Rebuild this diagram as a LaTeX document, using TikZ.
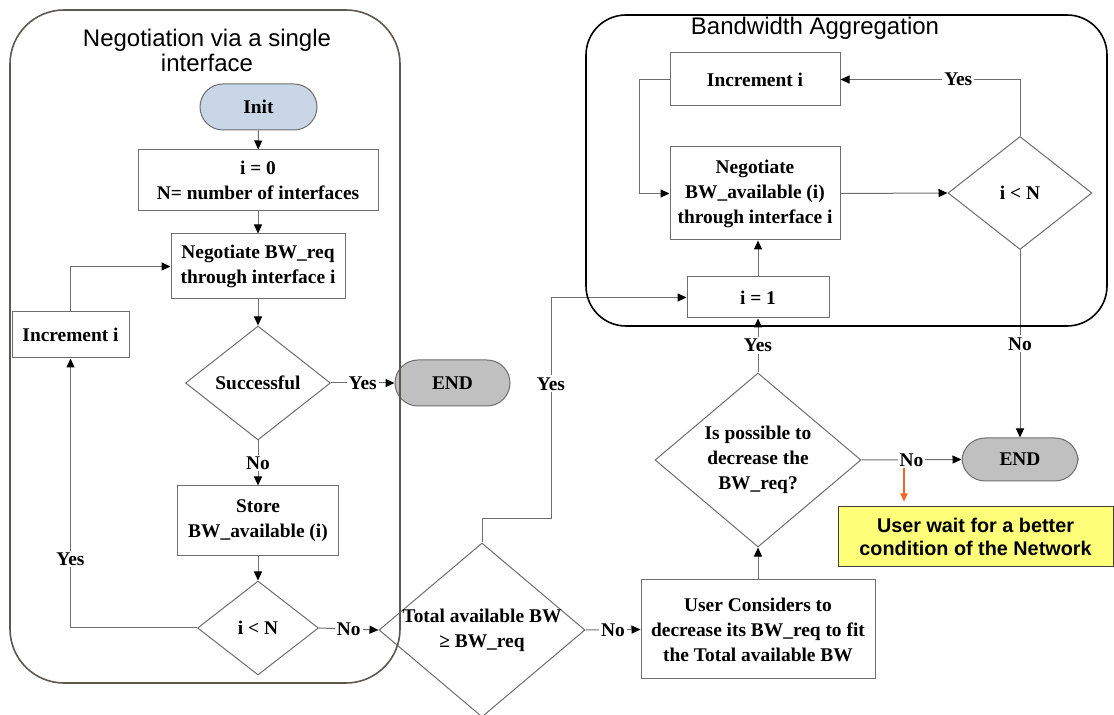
\documentclass[tikz,border=0pt]{standalone}
\usepackage{fontspec}
\setmainfont{Liberation Serif}
\newfontfamily\sansfam{Liberation Sans}
\usetikzlibrary{arrows.meta,shapes.geometric}
\definecolor{linegray}{HTML}{6E6E6E}
\definecolor{framebrown}{HTML}{5E5852}
\definecolor{initblue}{HTML}{C9D6E6}
\definecolor{endgray}{HTML}{C0C0C0}
\definecolor{noteyellow}{HTML}{FFFF7A}
\definecolor{notearrow}{HTML}{F26522}
\newcommand\flowfont{\fontsize{9.7pt}{12.5pt}\selectfont\bfseries}
\newcommand\headfont{\fontsize{12pt}{12.5pt}\selectfont\sansfam}
\begin{document}
\begin{tikzpicture}[x=0.5pt,y=-0.5pt,
  sz/.style 2 args={minimum width=#1*0.5pt, minimum height=#2*0.5pt},
  box/.style={draw=linegray, line width=0.5pt, fill=white, rectangle, inner sep=0pt, align=center, font=\flowfont},
  terminal/.style={box, rounded corners=11.5pt},
  decision/.style={draw=linegray, line width=0.5pt, fill=white, diamond, inner sep=0pt},
  dtext/.style={align=center, font=\flowfont, inner sep=0pt},
  lbl/.style={font=\flowfont, fill=white, inner sep=1pt},
  flow/.style={draw=linegray, line width=0.5pt, -{Triangle[length=4.5pt,width=4pt,black]}},
  frame/.style={rounded corners=#1}
]
\useasboundingbox (0,0) rectangle (1114,715);

% ---- left column: negotiation over one interface
\node[terminal, fill=initblue, sz={117}{46}] (init) at (258.5,107) {Init};
\node[box, sz={240}{61}] (set0) at (258,180.5) {i = 0\\N= number of interfaces};
\node[box, sz={174}{65}] (negreq) at (258,266.5) {Negotiate BW\_req\\through interface i};
\node[box, sz={117}{46}] (incL) at (70.5,335) {Increment i};
\node[decision, sz={145}{114}] (succ) at (258,383) {};
\node[dtext] at (succ) {Successful};
\node[terminal, fill=endgray, sz={115}{46}] (end1) at (452.5,383) {END};
\node[box, sz={161}{70}] (store) at (258,521) {Store\\BW\_available (i)};
\node[decision, sz={121}{94}] (lessL) at (258,628) {};
\node[dtext] at (lessL) {i < N};

% ---- middle: total check and user decision
\node[decision, sz={206}{174}] (total) at (482,630) {};
\node[dtext] at (total) {Total available BW\\≥ BW\_req};
\node[box, sz={234}{99}] (user) at (758,629.5) {User Considers to\\decrease its BW\_req to fit\\the Total available BW};
\node[decision, sz={206}{174}] (dec) at (758,460) {};
\node[dtext] at (dec) {Is possible to\\decrease the\\BW\_req?};
\node[terminal, fill=endgray, sz={116}{43}] (end2) at (1020,459.5) {END};
\node[draw=black!75, line width=0.5pt, fill=noteyellow, sz={275}{60}, inner sep=0pt, align=center,
      font=\fontsize{9.9pt}{11.7pt}\selectfont\sansfam\bfseries] (wait) at (975.5,537)
      {User wait for a better\\condition of the Network};

% ---- right block: bandwidth aggregation
\node[box, sz={142}{41}] (set1) at (758,297.5) {i = 1};
\node[box, sz={170}{93}] (negbw) at (755,193.5) {Negotiate\\BW\_available (i)\\through interface i};
\node[box, sz={170}{53}] (incR) at (755,79.5) {Increment i};
\node[decision, sz={144}{113}] (lessR) at (1020,193) {};
\node[dtext] at (lessR) {i < N};

% ---- connectors, left column
\draw[flow] (init) -- (set0);
\draw[flow] (set0) -- (negreq);
\draw[flow] (negreq) -- (succ);
\draw[flow] (succ.east) -- node[lbl] {Yes} (end1.west);
\draw[flow] (succ.south) -- node[lbl] {No} (store.north);
\draw[flow] (store) -- (lessL);
\draw[flow] (lessL.west) -| node[lbl, pos=0.628] {Yes} (incL.south);
\draw[flow] (incL.north) |- (negreq.west);
\draw[flow] (lessL.east) -- node[lbl] {No} (total.west);

% ---- connectors, middle
\coordinate (bend) at (551,519);
\draw[flow] (total.north) |- (bend) |- node[lbl, pos=0.305] {Yes} (set1.west);
\draw[flow] (total.east) -- node[lbl] {No} (user.west);
\draw[flow] (user) -- (dec);
\draw[flow] (dec.north) -- node[lbl] {Yes} (set1.south);
\draw[flow] (dec.east) -- node[lbl] (nolab) {No} (end2.west);
\coordinate (warnstart) at (904,468);
\draw[draw=notearrow, line width=0.7pt, -{Triangle[length=4pt,width=3.6pt]}, shorten >=2.5pt]
  (warnstart) -- (warnstart |- wait.north);

% ---- connectors, right block
\draw[flow] (set1.north) -- (set1.north |- negbw.south);
\draw[flow] (incR.west) -- ++(-30,0) |- (negbw.west);
\draw[flow] (negbw.east) -- (lessR.west);
\draw[flow] (lessR.north) |- node[lbl, pos=0.672] {Yes} (incR.east);
\draw[flow] (lessR.south) -- node[lbl] {No} (end2.north);

% ---- grouping frames, drawn over the shapes
\draw[framebrown, line width=0.8pt, frame=27pt] (10,10) rectangle (400,683);
\node[font=\headfont, align=center, inner sep=0pt] (headL) at (207,50)
  {Negotiation via a single\\interface};
\draw[black, line width=0.8pt, frame=20pt] (586,15) rectangle (1107,326);
\node[font=\headfont, inner sep=0pt] (headR) at (815,28) {Bandwidth Aggregation};
\end{tikzpicture}
\end{document}
